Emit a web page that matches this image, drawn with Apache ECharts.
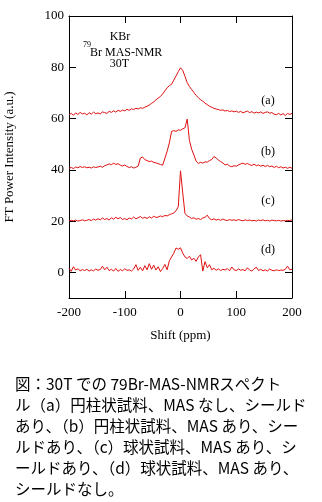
<!DOCTYPE html>
<html>
<head>
<meta charset="utf-8">
<script src="https://cdn.jsdelivr.net/npm/echarts@6/dist/echarts.min.js"></script>
<style>
  html, body { margin: 0; padding: 0; background: #fff; }
  #chart { width: 322px; height: 502px; }
</style>
</head>
<body>
<div id="chart"></div>
<script>
// chemical shift (ppm), sampled every 4 ppm
const shift = [
  -200,-196,-192,-188,-184,-180,-176,-172,-168,-164,
  -160,-156,-152,-148,-144,-140,-136,-132,-128,-124,
  -120,-116,-112,-108,-104,-100,-96,-92,-88,-84,
  -80,-76,-72,-68,-64,-60,-56,-52,-48,-44,
  -40,-36,-32,-28,-24,-20,-16,-12,-8,-4,
  0,4,8,12,16,20,24,28,32,36,
  40,44,48,52,56,60,64,68,72,76,
  80,84,88,92,96,100,104,108,112,116,
  120,124,128,132,136,140,144,148,152,156,
  160,164,168,172,176,180,184,188,192,196,
  200
];

// (a) 円柱状試料、MASなし、シールドあり (offset +60)
const traceA = [
  61.5,62.0,61.3,62.2,61.6,62.4,61.8,62.1,61.4,62.3,
  61.7,62.5,61.9,62.2,61.8,62.6,62.3,62.0,62.8,62.4,
  63.0,62.5,63.2,62.8,63.3,63.0,63.6,63.2,63.8,63.5,
  64.0,63.7,64.2,64.0,64.4,64.8,65.3,65.9,66.5,67.3,
  68.0,68.6,69.6,70.8,72.0,72.8,73.4,75.0,76.6,78.3,
  79.8,78.8,76.5,74.0,72.5,71.3,70.2,69.0,68.2,67.3,
  66.8,66.0,65.4,64.8,64.4,64.0,63.7,63.5,63.2,63.4,
  62.9,63.2,62.7,63.0,62.6,62.9,62.4,62.8,62.2,62.6,
  62.9,62.3,62.7,62.1,62.5,62.2,62.6,62.0,62.4,62.6,
  62.1,62.3,61.7,61.5,62.0,61.4,61.9,61.2,62.0,61.6,
  62.0
];

// (b) 円柱状試料、MASあり、シールドあり (offset +40)
const traceB = [
  40.6,40.9,40.5,41.1,40.8,41.3,40.9,41.2,40.8,41.0,
  40.7,41.2,40.9,41.1,41.4,41.0,41.6,41.9,42.3,42.0,
  42.6,42.1,42.4,41.8,41.5,41.9,41.3,40.9,41.2,40.7,
  41.0,41.4,44.6,45.0,44.0,43.6,43.2,43.4,42.9,42.7,
  42.4,42.1,41.8,44.5,47.2,50.5,55.0,55.3,55.0,55.6,
  55.4,56.0,56.4,59.8,51.5,48.0,45.8,43.4,42.5,42.9,
  42.6,43.1,43.0,43.6,44.0,45.2,44.6,43.8,43.2,42.7,
  41.9,42.2,41.5,41.2,41.6,41.4,41.9,42.3,42.6,42.1,
  42.5,42.0,41.7,42.2,41.6,41.9,41.4,41.8,41.3,41.7,
  41.2,41.5,40.9,41.4,40.8,41.2,40.7,41.0,40.6,41.0,
  40.6
];

// (c) 球状試料、MASあり、シールドあり (offset +20)
const traceC = [
  20.0,20.3,20.1,20.4,20.0,20.2,20.5,20.1,20.3,20.6,
  20.2,20.8,20.4,20.9,20.5,21.2,20.6,21.0,20.4,21.3,
  20.7,21.5,20.9,21.4,20.6,21.0,20.5,21.2,20.8,21.6,
  20.9,21.3,21.8,21.1,21.5,21.0,21.7,21.2,21.9,21.4,
  21.6,22.0,21.7,22.2,22.0,22.5,22.8,23.2,24.0,25.6,
  39.6,31.0,23.0,22.0,21.6,21.0,21.3,20.7,21.0,20.6,
  21.2,21.5,22.3,21.0,20.5,20.9,20.4,20.7,20.3,20.8,
  20.4,20.2,20.6,20.3,20.5,20.2,20.6,20.3,20.1,20.5,
  20.2,20.4,20.1,20.3,20.0,20.4,20.2,20.5,20.1,20.3,
  20.0,20.4,20.2,20.1,20.3,20.0,20.2,20.1,20.3,20.2,
  20.5
];

// (d) 球状試料、MASあり、シールドなし
const traceD = [
  1.6,0.4,2.2,0.9,1.4,0.6,1.1,0.7,1.2,0.5,
  1.0,0.6,1.3,0.8,1.1,2.4,1.0,2.0,0.7,1.2,
  0.5,1.5,0.4,1.1,0.6,1.4,0.8,1.0,0.5,1.3,
  3.0,0.8,2.0,0.6,2.6,1.0,3.4,1.2,2.8,0.9,
  2.2,0.3,1.5,3.1,1.0,4.5,6.0,7.5,9.5,9.0,
  9.6,7.5,6.0,5.4,6.3,4.8,5.5,4.3,6.0,6.9,
  0.5,4.2,1.8,3.0,1.0,1.6,0.8,1.4,0.7,1.2,
  0.9,1.5,0.6,2.1,1.0,0.7,1.3,0.8,1.1,0.6,
  1.8,0.9,0.5,1.4,2.0,0.7,1.2,0.6,1.0,0.5,
  1.3,0.8,0.6,1.0,0.7,0.9,0.8,1.2,2.4,1.0,
  1.2
];

const yTicks = [0, 20, 40, 60, 80, 100];

const caption = [
  '図：30T での 79Br-MAS-NMRスペクト',
  'ル（a）円柱状試料、MAS なし、シールド',
  'あり、（b）円柱状試料、MAS あり、シー',
  'ルドあり、（c）球状試料、MAS あり、シ',
  'ールドあり、（d）球状試料、MAS あり、',
  'シールドなし。'
];

const serif = 'Liberation Serif';
const lineColor = '#e01010';

const chart = echarts.init(document.getElementById('chart'));

const toPairs = arr => shift.map((x, i) => [x, arr[i]]);

const xBase = {
  type: 'value',
  min: -200,
  max: 200,
  interval: 100,
  axisLine: { show: true, onZero: false, lineStyle: { color: '#000', width: 1 } },
  axisTick: { show: true, inside: true, length: 7, lineStyle: { color: '#000' } },
  splitLine: { show: false }
};
const yBase = {
  type: 'value',
  min: -10,
  max: 100,
  axisLine: { show: true, onZero: false, lineStyle: { color: '#000', width: 1 } },
  axisTick: { show: true, inside: true, length: 7, customValues: yTicks, lineStyle: { color: '#000' } },
  splitLine: { show: false }
};

const textEl = (text, x, y, size, family, align) => ({
  type: 'text',
  style: {
    text: text,
    x: x,
    y: y,
    fill: '#000',
    font: size + 'px "' + family + '"',
    align: align || 'left',
    verticalAlign: 'middle'
  }
});

const graphics = [
  textEl('KBr', 120, 37, 12, serif, 'center'),
  textEl('79', 83, 45, 8, serif),
  textEl('Br MAS-NMR', 90, 53, 12, serif),
  textEl('30T', 119.5, 63.5, 12, serif, 'center'),
  textEl('(a)', 268, 100.5, 12, serif, 'center'),
  textEl('(b)', 268, 151.5, 12, serif, 'center'),
  textEl('(c)', 268, 201, 12, serif, 'center'),
  textEl('(d)', 268, 250, 12, serif, 'center')
];
caption.forEach((line, i) => {
  graphics.push(textEl(line, 15, 384 + i * 21, 15.5, 'Noto Sans CJK JP'));
});

chart.setOption({
  animation: false,
  backgroundColor: '#fff',
  textStyle: { fontFamily: serif },
  grid: { left: 69, right: 30, top: 16, bottom: 204, containLabel: false, outerBoundsMode: 'none' },
  xAxis: [
    Object.assign({}, xBase, {
      position: 'bottom',
      name: 'Shift (ppm)',
      nameLocation: 'middle',
      nameGap: 31,
      nameTextStyle: { fontFamily: serif, fontSize: 13, color: '#000' },
      axisLabel: { margin: 8, fontFamily: serif, fontSize: 13, color: '#000' }
    }),
    Object.assign({}, xBase, {
      position: 'top',
      axisLabel: { show: false }
    })
  ],
  yAxis: [
    Object.assign({}, yBase, {
      position: 'left',
      name: 'FT Power Intensity (a.u.)',
      nameLocation: 'middle',
      nameGap: 53,
      nameTextStyle: { fontFamily: serif, fontSize: 13, color: '#000' },
      axisLabel: { margin: 5, customValues: yTicks, fontFamily: serif, fontSize: 13, color: '#000' }
    }),
    Object.assign({}, yBase, {
      position: 'right',
      axisLabel: { show: false }
    })
  ],
  series: [traceA, traceB, traceC, traceD].map(arr => ({
    type: 'line',
    xAxisIndex: 0,
    yAxisIndex: 0,
    data: toPairs(arr),
    showSymbol: false,
    symbol: 'none',
    lineStyle: { color: lineColor, width: 1 },
    silent: true
  })),
  graphic: graphics
});
</script>
</body>
</html>
